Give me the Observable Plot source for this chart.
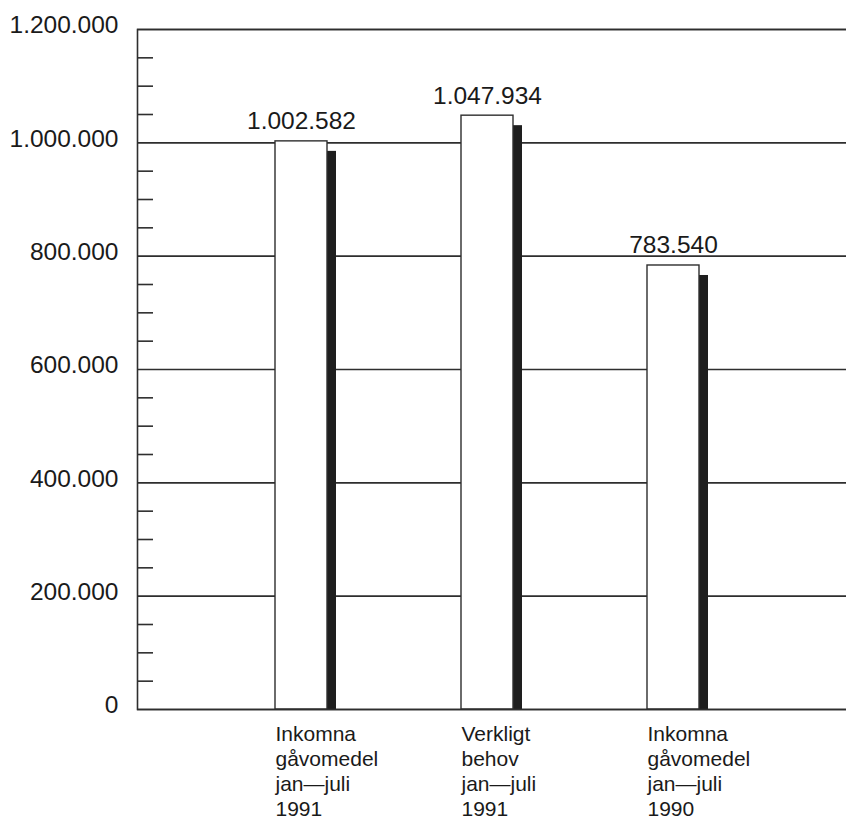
<!DOCTYPE html>
<html>
<head>
<meta charset="utf-8">
<script src="https://cdn.jsdelivr.net/npm/d3@7"></script>
<script src="https://cdn.jsdelivr.net/npm/@observablehq/plot@0.6"></script>
<style>
  html, body { margin: 0; padding: 0; background: #fff; }
  #chart { width: 846px; height: 820px; overflow: hidden; }
</style>
</head>
<body>
<div id="chart"></div>
<script>
// Data
const categories = [
  "Inkomna\ngåvomedel\njan\u2014juli\n1991",
  "Verkligt\nbehov\njan\u2014juli\n1991",
  "Inkomna\ngåvomedel\njan\u2014juli\n1990"
];
const values = [1002582, 1047934, 783540];
const majorTicks = [0, 200000, 400000, 600000, 800000, 1000000, 1200000];
const minorTicks = [50000, 100000, 150000, 250000, 300000, 350000, 450000, 500000, 550000,
                    650000, 700000, 750000, 850000, 900000, 950000, 1050000, 1100000, 1150000];

const data = categories.map((c, i) => ({cat: c, value: values[i]}));
const fmt = d3.formatLocale({thousands: ".", grouping: [3], decimal: ","}).format(",d");

const W = 846, H = 820, ML = 137, MR = 0, MT = 29, MB = 111;
const ink = "#2e2e2e";

const chart = Plot.plot({
  width: W,
  height: H,
  marginLeft: ML,
  marginRight: MR,
  marginTop: MT,
  marginBottom: MB,
  style: {fontFamily: "'Liberation Sans', Arial, Helvetica, sans-serif", color: "#1a1a1a", background: "#fff"},
  x: {type: "band", domain: categories, paddingInner: 0.7219, paddingOuter: 0.7567, align: 0.484, label: null},
  y: {domain: [0, 1200000], label: null},
  marks: [
    Plot.ruleY(majorTicks, {stroke: ink, strokeWidth: 1.6}),
    Plot.tickY(minorTicks, {stroke: ink, strokeWidth: 1.6, insetRight: (W - ML - MR) - 16}),
    Plot.barY(data, {x: "cat", y: "value", fill: "#1e1e1e", dx: 9, dy: 10, clip: true}),
    Plot.barY(data, {x: "cat", y: "value", fill: "#fff", stroke: ink, strokeWidth: 1.4}),
    Plot.text(data, {x: "cat", y: "value", text: d => fmt(d.value), dy: -12, lineAnchor: "bottom", fontSize: 24.5, fill: "#1a1a1a"}),
    Plot.frame({stroke: ink, strokeWidth: 1.6, insetRight: -4}),
    Plot.axisY({ticks: majorTicks, tickSize: 0, tickPadding: 19, tickFormat: fmt, fontSize: 24.5, dy: -4, label: null}),
    Plot.axisX({tickSize: 0, tickPadding: 14, textAnchor: "start", dx: -26, fontSize: 21, lineHeight: 1.19, label: null})
  ]
});
document.getElementById("chart").appendChild(chart);
</script>
</body>
</html>
